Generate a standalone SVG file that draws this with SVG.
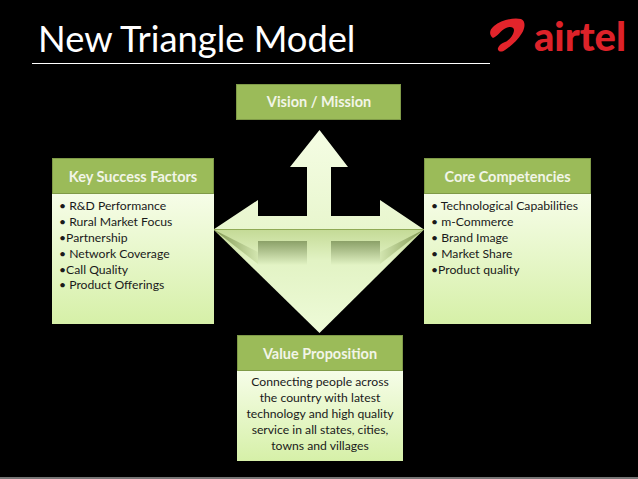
<svg xmlns="http://www.w3.org/2000/svg" width="638" height="479" viewBox="0 0 638 479">
<style>
text{font-family:Lato,"Open Sans","Liberation Sans",sans-serif}
.hd{fill:#9bbb59;stroke:#7f9a48;stroke-width:1}
.bd{fill:url(#body)}
.ht{font-size:14.5px;font-weight:700;fill:#f2f5e8;text-anchor:middle}
.tx{font-size:12.2px;fill:#1a1a1a}
.mid{text-anchor:middle}
</style>
<defs>
<linearGradient id="body" x1="0" y1="0" x2="0" y2="1"><stop offset="0" stop-color="#f6fde8"/><stop offset="1" stop-color="#d6f0a8"/></linearGradient>
<linearGradient id="up" x1="0" y1="0" x2="0" y2="1"><stop offset="0" stop-color="#f5fde4"/><stop offset="1" stop-color="#e8f6ce"/></linearGradient>
<linearGradient id="down" x1="0" y1="0" x2="0" y2="1"><stop offset="0" stop-color="#c4da96"/><stop offset="0.3" stop-color="#e2f3c4"/><stop offset="1" stop-color="#eefbd8"/></linearGradient>
<linearGradient id="shade" x1="0" y1="0" x2="0" y2="1"><stop offset="0" stop-color="#8ba068"/><stop offset="1" stop-color="#e2f3c4"/></linearGradient>
<linearGradient id="sl" x1="0" y1="0" x2="1" y2="0"><stop offset="0" stop-color="#7f9650"/><stop offset="1" stop-color="#d3e6b0"/></linearGradient>
<linearGradient id="sr" x1="1" y1="0" x2="0" y2="0"><stop offset="0" stop-color="#7f9650"/><stop offset="1" stop-color="#d3e6b0"/></linearGradient>
</defs>
<rect width="638" height="479" fill="#000"/>
<rect y="477" width="638" height="2" fill="#777"/>
<g id="title">
<text x="38" y="52" font-size="36.300" fill="#fff" style="font-weight:400">New Triangle Model</text>
<rect x="32" y="63" width="458" height="1" fill="#fff"/>
</g>
<g id="logo">
<path d="M493 38C489 35 489 30 494 26C501 20 514 17 521 19C526 21 525 28 522 33C518 40 511 46 505 50C501 53 497 51 498 48C499 45 502 43 505 42C510 40 514 34 514 30C514 27 510 26 506 28C501 30 497 37 493 38Z" fill="#e3242b"/>
<text x="534" y="51" font-size="40" style="font-weight:900" fill="#dd2229" textLength="92" lengthAdjust="spacingAndGlyphs">airtel</text>
</g>
<g id="connectors">
<path id="arrow-up" d="M319.500 130L348 167H331V216H380V200L424 229.500H213.500L258 200V216H307V167H290Z" fill="url(#up)"/>
<path id="arrow-down" d="M213.500 229.500H424L319.500 333Z" fill="url(#down)"/>
<path d="M213.500 229.500L258 252V264Z" fill="url(#sl)"/>
<path d="M424 229.500L380 252V264Z" fill="url(#sr)"/>
<rect x="258" y="241" width="49" height="24" fill="url(#shade)"/>
<rect x="331" y="241" width="49" height="24" fill="url(#shade)"/>
<path d="M213.500 229.500H424" stroke="#8faa55" stroke-width="1" fill="none"/>
</g>
<g id="vision">
<rect class="hd" x="236.500" y="84.500" width="164" height="35"/>
<text class="ht" x="319" y="107">Vision / Mission</text>
</g>
<g id="key-success-factors">
<rect class="bd" x="52" y="194" width="162" height="130"/>
<rect class="hd" x="52.500" y="158.500" width="161" height="35"/>
<text class="ht" x="133" y="182">Key Success Factors</text>
<text class="tx" x="59" y="210">• R&amp;D Performance</text>
<text class="tx" x="59" y="226">• Rural Market Focus</text>
<text class="tx" x="59" y="242">•Partnership</text>
<text class="tx" x="59" y="258">• Network Coverage</text>
<text class="tx" x="59" y="274">•Call Quality</text>
<text class="tx" x="59" y="289">• Product Offerings</text>
</g>
<g id="core-competencies">
<rect class="bd" x="424" y="194" width="167" height="130"/>
<rect class="hd" x="424.500" y="158.500" width="166" height="35"/>
<text class="ht" x="507.500" y="182">Core Competencies</text>
<text class="tx" x="431" y="210">• Technological Capabilities</text>
<text class="tx" x="431" y="226">• m-Commerce</text>
<text class="tx" x="431" y="242">• Brand Image</text>
<text class="tx" x="431" y="258">• Market Share</text>
<text class="tx" x="431" y="274">•Product quality</text>
</g>
<g id="value-proposition">
<rect class="bd" x="237" y="371" width="166" height="90"/>
<rect class="hd" x="237.500" y="335.500" width="165" height="35"/>
<text class="ht" x="320" y="359">Value Proposition</text>
<text class="tx mid" x="320" y="386">Connecting people across</text>
<text class="tx mid" x="320" y="402">the country with latest</text>
<text class="tx mid" x="320" y="418">technology and high quality</text>
<text class="tx mid" x="320" y="434">service in all states, cities,</text>
<text class="tx mid" x="320" y="450">towns and villages</text>
</g>
</svg>
